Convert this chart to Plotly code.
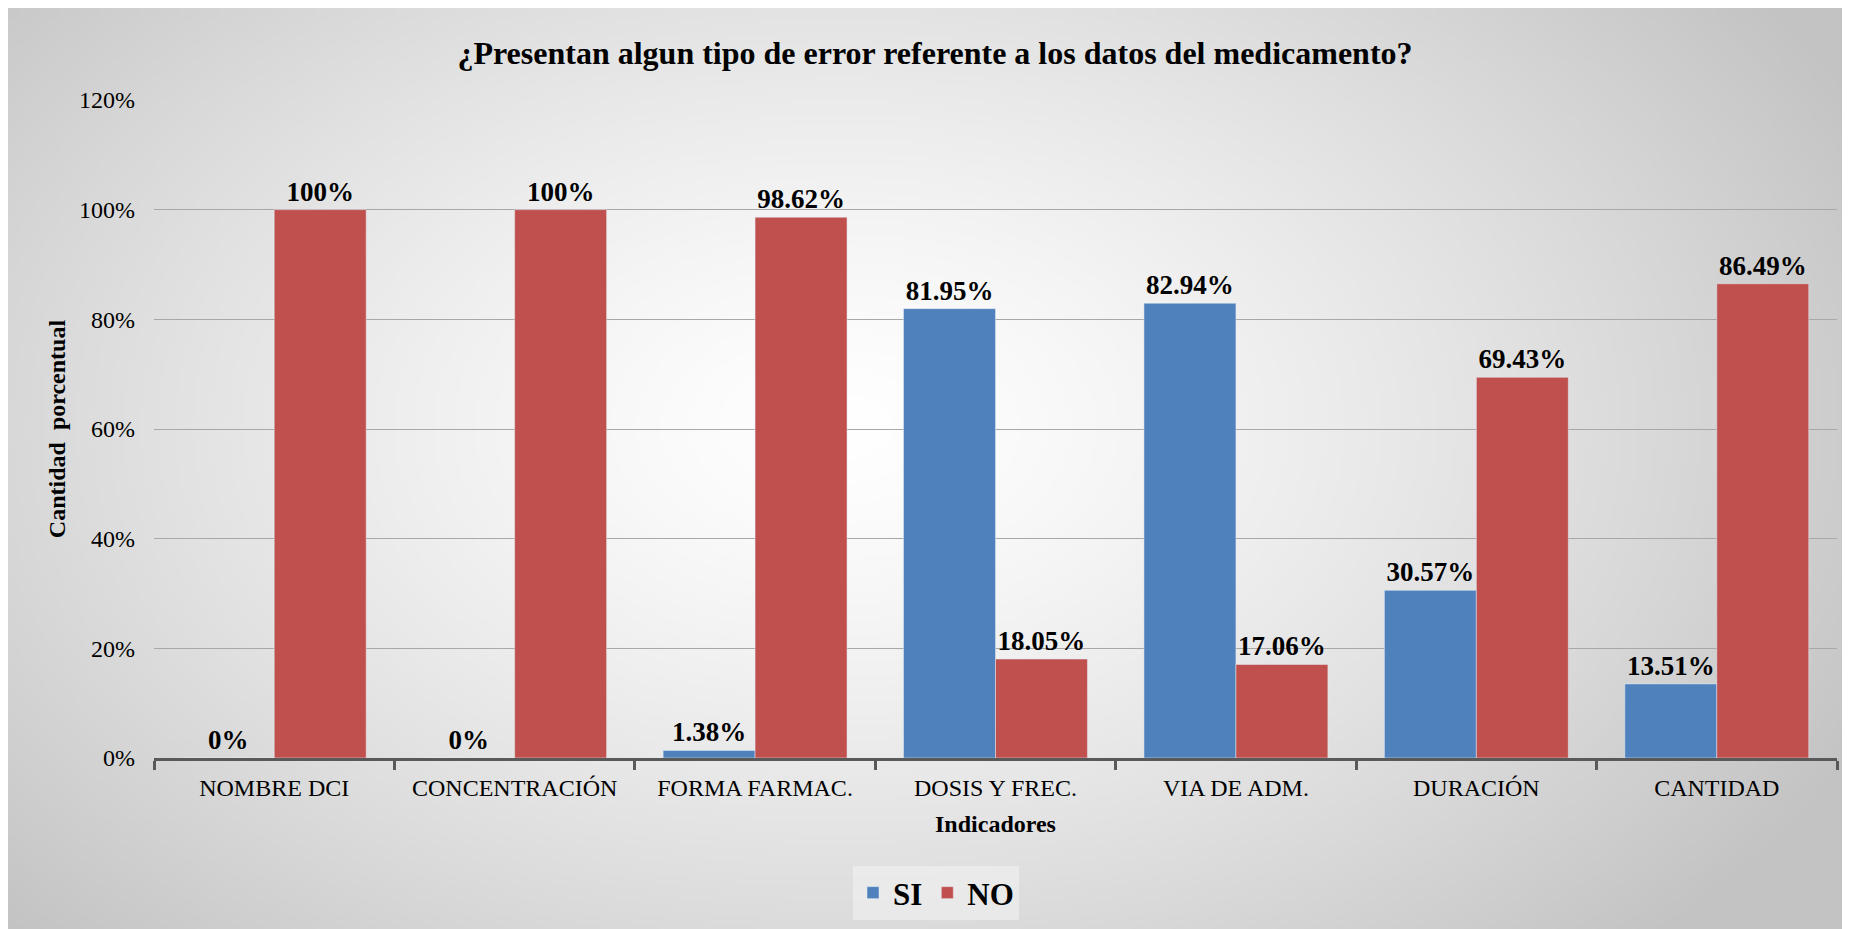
import base64, struct, zlib
import numpy as np
import plotly.graph_objects as go

categories = ["NOMBRE DCI", "CONCENTRACIÓN", "FORMA FARMAC.", "DOSIS Y FREC.",
              "VIA DE ADM.", "DURACIÓN", "CANTIDAD"]
si_values = [0.0, 0.0, 0.0138, 0.8195, 0.8294, 0.3057, 0.1351]
no_values = [1.0, 1.0, 0.9862, 0.1805, 0.1706, 0.6943, 0.8649]
si_labels = ["0%", "0%", "1.38%", "81.95%", "82.94%", "30.57%", "13.51%"]
no_labels = ["100%", "100%", "98.62%", "18.05%", "17.06%", "69.43%", "86.49%"]
y_ticks = [0, 0.2, 0.4, 0.6, 0.8, 1.0, 1.2]
y_tick_labels = ["0%", "20%", "40%", "60%", "80%", "100%", "120%"]

W, H = 1850, 929
L, R, T, B = 146, 21, 92, 179
PW, PH = W - L - R, H - T - B

# radial gradient background image (style only)
def gradient_png(w=370, h=186):
    xs = np.linspace(0, 1, w)[None, :]
    ys = np.linspace(0, 1, h)[:, None]
    r = np.sqrt(((xs - 0.45) / 0.62) ** 2 + ((ys - 0.45) / 0.80) ** 2)
    r = np.clip(r, 0, 1)
    v = 255 - 60 * r ** 1.35
    img = np.clip(v, 0, 255).astype(np.uint8)
    raw = b"".join(b"\x00" + bytes(np.stack([row, row, row], axis=1).flatten()) for row in img)
    def chunk(tag, data):
        c = struct.pack(">I", len(data)) + tag + data
        return c + struct.pack(">I", zlib.crc32(tag + data) & 0xffffffff)
    png = b"\x89PNG\r\n\x1a\n" + chunk(b"IHDR", struct.pack(">IIBBBBB", w, h, 8, 2, 0, 0, 0)) \
        + chunk(b"IDAT", zlib.compress(raw, 9)) + chunk(b"IEND", b"")
    return "data:image/png;base64," + base64.b64encode(png).decode()

serif = "Liberation Serif, Times New Roman, serif"
label_font = dict(family=serif, size=27, color="black", weight="bold")

fig = go.Figure()
fig.add_trace(go.Bar(x=categories, y=si_values, name="SI", marker_color="#4F81BD",
                     text=si_labels, textposition="outside", cliponaxis=False,
                     textfont=label_font, outsidetextfont=label_font))
fig.add_trace(go.Bar(x=categories, y=no_values, name="NO", marker_color="#C0504D",
                     text=no_labels, textposition="outside", cliponaxis=False,
                     textfont=label_font, outsidetextfont=label_font))

fig.add_layout_image(dict(source=gradient_png(), xref="paper", yref="paper",
                          x=-L / PW, y=(H - B) / PH, sizex=W / PW, sizey=H / PH,
                          xanchor="left", yanchor="top", sizing="stretch", layer="below"))

fig.update_layout(
    width=W, height=H,
    margin=dict(l=L, r=R, t=T, b=B, autoexpand=False),
    paper_bgcolor="#e0e0e0", plot_bgcolor="rgba(0,0,0,0)",
    barmode="group", bargap=0.235, bargroupgap=0,
    uniformtext=dict(mode=False),
    title=dict(text="¿Presentan algun tipo de error referente a los datos del medicamento?",
               x=(935 - 8) / W, xref="container", xanchor="center",
               y=1 - 45 / H, yanchor="middle",
               font=dict(family=serif, size=32, color="black", weight="bold")),
    font=dict(family=serif, color="black"),
    xaxis=dict(type="category", showline=True, linewidth=3, linecolor="#595959",
               ticks="outside", tickson="boundaries", ticklen=9, tickwidth=3, tickcolor="#595959",
               ticklabelstandoff=6,
               tickfont=dict(family=serif, size=24, color="black"),
               showgrid=False, zeroline=False,
               title=dict(text="Indicadores", standoff=16,
                          font=dict(family=serif, size=24, color="black", weight="bold"))),
    yaxis=dict(range=[0, 1.2], tickvals=y_ticks, ticktext=y_tick_labels,
               showgrid=True, gridcolor="#a8a8a8", gridwidth=1, zeroline=False,
               showline=False, ticks="", ticklabelstandoff=18,
               tickfont=dict(family=serif, size=24, color="black"),
               title=dict(text="Cantidad  porcentual", standoff=6,
                          font=dict(family=serif, size=24, color="black", weight="bold"))),
    legend=dict(orientation="h", x=(936 - 8 - L) / PW, xanchor="center",
                y=(H - B - 885) / PH, yanchor="middle",
                bgcolor="rgba(242,242,242,0.6)", borderwidth=0,
                font=dict(family=serif, size=31, color="black", weight="bold"),
                itemwidth=30, traceorder="normal"),
    showlegend=True,
)

fig.write_html("out.html")
